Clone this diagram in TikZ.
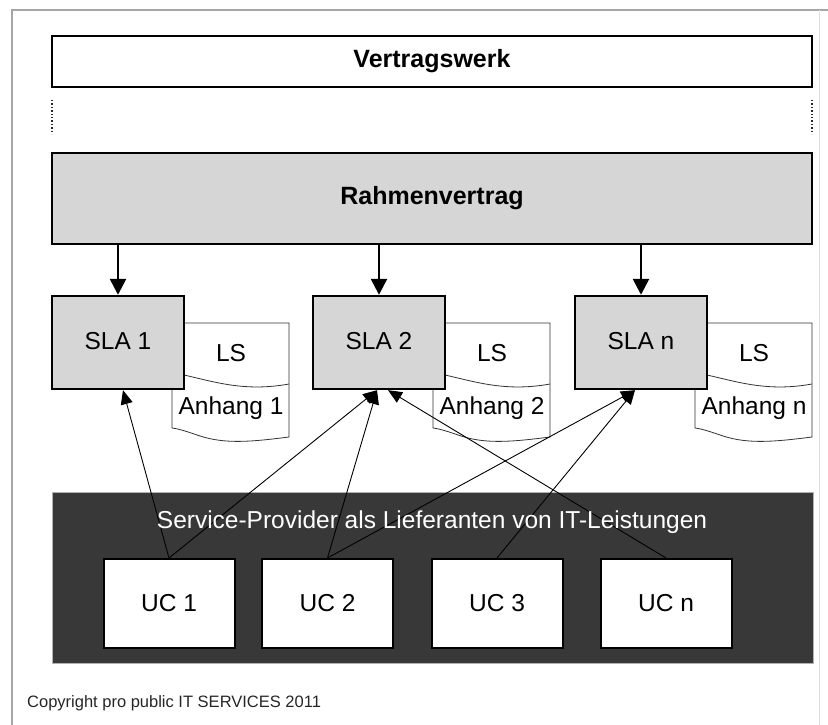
\documentclass[tikz,border=0pt]{standalone}
\usepackage{fontspec}
\setmainfont{Liberation Sans}
\usetikzlibrary{arrows.meta}
\definecolor{boxgray}{HTML}{D6D6D6}
\definecolor{darkbg}{HTML}{383838}
\tikzset{
  bigbox/.style={draw=black, line width=2.4pt, inner sep=0pt, font=\fontsize{25}{30}\selectfont\bfseries},
  slabox/.style={draw=black, line width=2.4pt, fill=boxgray, minimum width=132pt, minimum height=93pt, inner sep=0pt, font=\fontsize{24.5}{29}\selectfont},
  ucbox/.style={draw=black, line width=2pt, fill=white, minimum width=131pt, minimum height=89pt, inner sep=0pt, font=\fontsize{24.5}{29}\selectfont},
  doc/.style={draw=black!80, line width=0.8pt, fill=white},
  doctext/.style={inner sep=0pt, font=\fontsize{24.5}{29}\selectfont},
  downarrow/.style={line width=2.6pt, -{Triangle[length=16pt,width=16pt]}},
  feed/.style={line width=0.9pt, -{Triangle[length=14pt,width=12pt]}},
}
\begin{document}
\begin{tikzpicture}[x=1pt,y=-1pt]
\useasboundingbox (0,0) rectangle (828,725);
% frame
\draw[gray!70, line width=1.6pt] (12,725) -- (12,10) -- (828,10);
\draw[gray!25, line width=1pt] (819,10) -- (819,725);
% top boxes
\node[bigbox, minimum width=760pt, minimum height=51pt] (vw) at (432,61.5) {Vertragswerk};
\coordinate (d1a) at (52,100); \coordinate (d1b) at (52,134);
\coordinate (d2a) at (812,100); \coordinate (d2b) at (812,134);
\draw[black!85, line width=1.4pt, dotted] (d1a) -- (d1b);
\draw[black!85, line width=1.4pt, dotted] (d2a) -- (d2b);
\node[bigbox, fill=boxgray, minimum width=760pt, minimum height=91pt] (rv) at (432,198.5) {Rahmenvertrag};
% documents behind SLA boxes
\foreach \ox/\n in {0/1, 261/2, 523/n} {
  \begin{scope}[xshift=\ox]
    \draw[doc] (172,323) -- (289,323) -- (289,437)
      .. controls (250,442) and (225,444) .. (200,436)
      .. controls (188,432) and (180,429) .. (172,428) -- cycle;
    \draw[black!80, line width=0.8pt] (184,375) .. controls (215,382) and (245,392) .. (289,384);
    \node[doctext] (ls\n) at (231,353) {LS};
    \node[doctext] (an\n) at (231,408) {Anhang \n};
  \end{scope}
}
% SLA boxes
\node[slabox] (s1) at (118,342.5) {\raisebox{4pt}{SLA 1}};
\node[slabox] (s2) at (379,342.5) {\raisebox{4pt}{SLA 2}};
\node[slabox] (sn) at (641,342.5) {\raisebox{4pt}{SLA n}};
% down arrows
\draw[downarrow] (rv.south -| s1.north) -- (s1.north);
\draw[downarrow] (rv.south -| s2.north) -- (s2.north);
\draw[downarrow] (rv.south -| sn.north) -- (sn.north);
% provider box
\node[draw=gray!60, line width=0.8pt, fill=darkbg, minimum width=761pt, minimum height=171pt, inner sep=0pt] (sp) at (432.5,577.5) {};
% UC boxes
\node[ucbox] (uc1) at (169,603.5) {UC 1};
\node[ucbox] (uc2) at (327.5,603.5) {UC 2};
\node[ucbox] (uc3) at (497,603.5) {UC 3};
\node[ucbox] (ucn) at (666,603.5) {UC n};
% feed arrows
\draw[feed] (uc1.north) -- ([xshift=5pt]s1.south);
\draw[feed] (uc1.north) -- ([xshift=-2pt]s2.south);
\draw[feed] (uc2.north) -- ([xshift=-2pt]s2.south);
\draw[feed] (ucn.north) -- ([xshift=9pt]s2.south);
\draw[feed] (uc2.north) -- ([xshift=-6pt]sn.south);
\draw[feed] (uc3.north) -- ([xshift=-6pt]sn.south);
\node[text=white, inner sep=0pt, font=\fontsize{24.5}{29}\selectfont] (sptext) at (432,522) {Service-Provider als Lieferanten von IT-Leistungen};
% copyright
\node[anchor=west, inner sep=0pt, font=\fontsize{16.5}{20}\selectfont, text=black!85] (copy) at (27,703) {Copyright pro public IT SERVICES 2011};
\end{tikzpicture}
\end{document}
